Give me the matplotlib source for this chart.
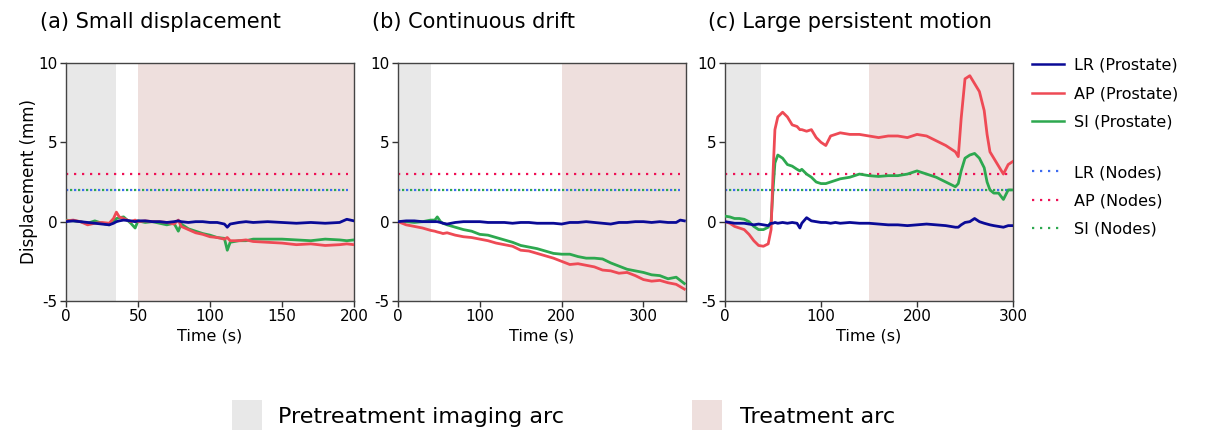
import matplotlib
matplotlib.use("Agg")
import matplotlib.pyplot as plt
from matplotlib.lines import Line2D
from matplotlib.patches import Rectangle

plt.rcParams['font.family'] = ['DejaVu Sans']
plt.rcParams['axes.unicode_minus'] = False

# colours
c_lr = '#0A0A96'
c_ap = '#EE4A55'
c_si = '#2DA84F'
c_lr_n = '#3D6BF0'
c_ap_n = '#EE1055'
c_si_n = '#2DA84F'
c_pre = '#E8E8E8'
c_treat = '#EEDFDD'

# (a) Small displacement
t_a = [0, 5, 10, 15, 20, 25, 30, 33, 35, 37, 40, 45, 48, 50, 55, 60, 65, 70, 75, 78,
       80, 85, 90, 95, 100, 105, 110, 112, 114, 120, 125, 130, 140, 150, 160, 170, 180, 190, 195, 200]
lr_a = [0, 0.05, 0.0, -0.05, -0.1, -0.15, -0.2, -0.1, 0.0, 0.05, 0.1, 0.05, 0.0, 0.05, 0.05, 0.0, 0.0, -0.05, 0.0, 0.05,
        0.0, -0.05, 0.0, 0.0, -0.05, -0.05, -0.15, -0.35, -0.15, -0.05, 0.0, -0.05, 0.0, -0.05, -0.1, -0.05, -0.1, -0.05, 0.15, 0.05]
ap_a = [0.05, 0.1, 0.0, -0.2, -0.1, -0.05, -0.1, 0.2, 0.6, 0.3, 0.2, 0.0, 0.1, 0.0, 0.05, 0.0, 0.0, -0.05, -0.15, 0.1,
        -0.3, -0.5, -0.7, -0.8, -0.95, -1.0, -1.1, -1.0, -1.2, -1.2, -1.15, -1.25, -1.3, -1.35, -1.45, -1.4, -1.5, -1.45, -1.4, -1.45]
si_a = [0.1, 0.05, 0.0, -0.1, 0.05, -0.1, -0.2, 0.0, 0.2, 0.25, 0.3, -0.1, -0.4, 0.05, -0.05, 0.0, -0.1, -0.2, -0.1, -0.6,
        -0.15, -0.45, -0.6, -0.75, -0.85, -1.0, -1.05, -1.8, -1.3, -1.2, -1.2, -1.1, -1.1, -1.1, -1.15, -1.2, -1.1, -1.15, -1.2, -1.15]

# (b) Continuous drift
t_b = [0, 10, 20, 30, 40, 45, 48, 52, 55, 60, 70, 80, 90, 100, 110, 120, 130, 140, 150, 160,
       170, 180, 190, 200, 210, 220, 230, 240, 250, 260, 270, 280, 290, 300, 310, 320, 330, 340, 345, 350]
lr_b = [0, 0.05, 0.05, 0.0, 0.0, 0.0, 0.0, -0.05, -0.1, -0.15, -0.05, 0.0, 0.0, 0.0, -0.05, -0.05, -0.05, -0.1, -0.05, -0.05,
        -0.1, -0.1, -0.1, -0.15, -0.05, -0.05, 0.0, -0.05, -0.1, -0.15, -0.05, -0.05, 0.0, 0.0, -0.05, 0.0, -0.05, -0.05, 0.1, 0.05]
ap_b = [0, -0.2, -0.3, -0.4, -0.55, -0.6, -0.65, -0.7, -0.75, -0.7, -0.85, -0.95, -1.0, -1.1, -1.2, -1.35, -1.45, -1.55, -1.8, -1.85,
        -2.0, -2.15, -2.3, -2.5, -2.7, -2.65, -2.75, -2.85, -3.05, -3.1, -3.25, -3.2, -3.4, -3.65, -3.75, -3.7, -3.85, -3.95, -4.1, -4.25]
si_b = [0, 0.0, -0.05, 0.0, 0.1, 0.1, 0.3, 0.0, -0.1, -0.2, -0.35, -0.5, -0.6, -0.8, -0.85, -1.0, -1.15, -1.3, -1.5, -1.6,
        -1.7, -1.85, -2.0, -2.05, -2.05, -2.2, -2.3, -2.3, -2.35, -2.6, -2.8, -3.0, -3.1, -3.2, -3.35, -3.4, -3.6, -3.5, -3.7, -3.9]

# (c) Large persistent motion
t_c = [0, 5, 10, 15, 20, 25, 30, 35, 40, 45, 48, 50, 52, 55, 60, 65, 70, 75, 78, 80,
       85, 90, 95, 100, 105, 110, 115, 120, 130, 140, 150, 160, 170, 180, 190, 200, 210, 220, 230, 240,
       243, 246, 250, 255, 260, 265, 270, 273, 276, 280, 285, 290, 295, 300]
lr_c = [0.0, -0.05, -0.1, -0.1, -0.1, -0.15, -0.2, -0.15, -0.2, -0.25, -0.1, -0.1, -0.05, -0.1, -0.05, -0.1, -0.05, -0.1, -0.4, -0.1,
        0.25, 0.05, 0.0, -0.05, -0.05, -0.1, -0.05, -0.1, -0.05, -0.1, -0.1, -0.15, -0.2, -0.2, -0.25, -0.2, -0.15, -0.2, -0.25, -0.35,
        -0.35, -0.2, -0.05, 0.0, 0.2, 0.0, -0.1, -0.15, -0.2, -0.25, -0.3, -0.35, -0.25, -0.25]
ap_c = [0.0, -0.1, -0.3, -0.4, -0.5, -0.8, -1.2, -1.5, -1.55, -1.4, -0.5, 3.0, 5.8, 6.6, 6.9, 6.6, 6.1, 6.0, 5.8, 5.8,
        5.7, 5.8, 5.3, 5.0, 4.8, 5.4, 5.5, 5.6, 5.5, 5.5, 5.4, 5.3, 5.4, 5.4, 5.3, 5.5, 5.4, 5.1, 4.8, 4.4,
        4.1, 6.5, 9.0, 9.2, 8.7, 8.2, 7.0, 5.5, 4.4, 4.0, 3.5, 3.0, 3.6, 3.8]
si_c = [0.35, 0.3, 0.2, 0.2, 0.15, 0.0, -0.3, -0.5, -0.5, -0.35, 0.0, 2.0, 3.7, 4.2, 4.0, 3.6, 3.5, 3.3, 3.2, 3.3,
        3.0, 2.8, 2.5, 2.4, 2.4, 2.5, 2.6, 2.7, 2.8, 3.0, 2.9, 2.85, 2.9, 2.9, 3.0, 3.2, 3.0, 2.8, 2.5, 2.2,
        2.4, 3.2, 4.0, 4.2, 4.3, 4.0, 3.4, 2.5, 2.0, 1.8, 1.8, 1.4, 2.0, 2.0]

# node thresholds (LR, AP, SI)
node_vals = [2.0, 3.0, 2.0]

titles = ['(a) Small displacement', '(b) Continuous drift', '(c) Large persistent motion']
xlims = [200, 352, 300]
xticks = [[0, 50, 100, 150, 200], [0, 100, 200, 300], [0, 100, 200, 300]]
node_end = [196, 345, 300]
pre_arc = [(0, 35), (0, 40), (0, 38)]
treat_arc = [(50, 200), (200, 352), (150, 300)]
panels = [(t_a, lr_a, ap_a, si_a), (t_b, lr_b, ap_b, si_b), (t_c, lr_c, ap_c, si_c)]

fig = plt.figure(figsize=(12.14, 4.30), dpi=100)
lefts = [66, 398, 725]
title_x = [40, 372, 708]

for i in range(3):
    ax = fig.add_axes([lefts[i] / 1214, 129 / 430, 288 / 1214, 238 / 430])
    t, lr, ap, si = panels[i]
    ax.axvspan(*pre_arc[i], color=c_pre, lw=0, zorder=0)
    ax.axvspan(*treat_arc[i], color=c_treat, lw=0, zorder=0)
    tn = [0, node_end[i]]
    ax.plot(tn, [node_vals[1]] * 2, color=c_ap_n, lw=1.6, ls=(0, (1, 2.6)), zorder=2)
    ax.plot(tn, [node_vals[0]] * 2, color=c_lr_n, lw=1.6, ls=(0, (1, 2.6)), zorder=2)
    ax.plot(tn, [node_vals[2]] * 2, color=c_si_n, lw=1.6, ls=(1.8, (1, 2.6)), zorder=2)
    ax.plot(t, si, color=c_si, lw=2.0, zorder=3)
    ax.plot(t, ap, color=c_ap, lw=2.0, zorder=4)
    ax.plot(t, lr, color=c_lr, lw=2.0, zorder=5)
    ax.set_xlim(0, xlims[i])
    ax.set_ylim(-5, 10)
    ax.set_xticks(xticks[i])
    ax.set_yticks([-5, 0, 5, 10])
    ax.tick_params(labelsize=11, length=4, width=1, color='#333333', pad=2)
    for s in ax.spines.values():
        s.set_color('#444444')
        s.set_linewidth(1.0)
    ax.set_xlabel('Time (s)', fontsize=11.5, labelpad=3)
    if i == 0:
        ax.set_ylabel('Displacement (mm)', fontsize=12, labelpad=0)
    fig.text(title_x[i] / 1214, 1 - 22 / 430, titles[i], fontsize=15, ha='left', va='center')

# right legends
h1 = [Line2D([], [], color=c_lr, lw=1.8), Line2D([], [], color=c_ap, lw=1.8), Line2D([], [], color=c_si, lw=1.8)]
h2 = [Line2D([], [], color=c_lr_n, lw=1.6, ls=(0, (1, 2.6))),
      Line2D([], [], color=c_ap_n, lw=1.6, ls=(0, (1, 2.6))),
      Line2D([], [], color=c_si_n, lw=1.6, ls=(0, (1, 2.6)))]
kw = dict(frameon=False, fontsize=11.5, handlelength=2.0, handletextpad=0.6, labelspacing=0.82,
          loc='upper left', borderaxespad=0, borderpad=0)
leg1 = fig.legend(h1, ['LR (Prostate)', 'AP (Prostate)', 'SI (Prostate)'],
                  bbox_to_anchor=(1032 / 1214, 1 - 58 / 430), **kw)
leg2 = fig.legend(h2, ['LR (Nodes)', 'AP (Nodes)', 'SI (Nodes)'],
                  bbox_to_anchor=(1032 / 1214, 1 - 165 / 430), **kw)

# bottom legend
fig.patches.append(Rectangle((232 / 1214, 0), 30 / 1214, 30 / 430, transform=fig.transFigure,
                             color=c_pre, lw=0))
fig.patches.append(Rectangle((692 / 1214, 0), 30 / 1214, 30 / 430, transform=fig.transFigure,
                             color=c_treat, lw=0))
fig.text(278 / 1214, 13 / 430, 'Pretreatment imaging arc', fontsize=16, ha='left', va='center')
fig.text(740 / 1214, 13 / 430, 'Treatment arc', fontsize=16, ha='left', va='center')

fig.savefig('out.png', dpi=100)
